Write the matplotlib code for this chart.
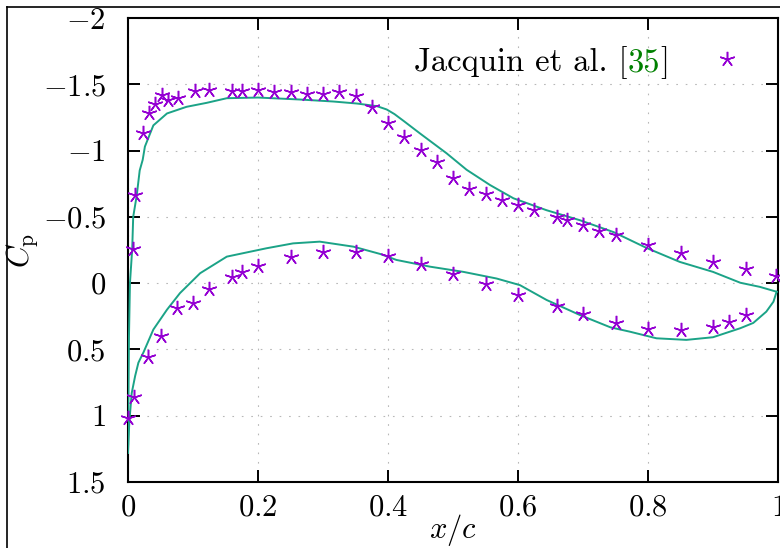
import numpy as np
import matplotlib
matplotlib.use("Agg")
import matplotlib.pyplot as plt
from matplotlib.lines import Line2D

plt.rcParams["font.family"] = "serif"
plt.rcParams["font.serif"] = ["cmr10"]
plt.rcParams["mathtext.fontset"] = "cm"
plt.rcParams["axes.formatter.use_mathtext"] = True

# simulation, upper surface (leading edge -> trailing edge)
sim_up_x = [0.0, 0.0008, 0.0015, 0.003, 0.0065, 0.008, 0.0134, 0.018, 0.0226, 0.026,
            0.039, 0.06, 0.09, 0.121, 0.152, 0.2, 0.265, 0.316, 0.352, 0.383, 0.398,
            0.41, 0.425, 0.449, 0.49, 0.521, 0.557, 0.593, 0.644, 0.695, 0.747, 0.798,
            0.849, 0.9, 0.942, 0.972, 0.998]
sim_up_cp = [1.28, 0.8, 0.4, 0.0, -0.26, -0.5, -0.66, -0.85, -0.93, -1.03,
             -1.19, -1.28, -1.33, -1.36, -1.395, -1.40, -1.385, -1.37, -1.355, -1.335, -1.31,
             -1.275, -1.22, -1.13, -0.98, -0.855, -0.74, -0.64, -0.55, -0.475, -0.385, -0.265,
             -0.16, -0.085, -0.003, 0.028, 0.065]

# simulation, lower surface (leading edge -> trailing edge)
sim_lo_x = [0.0, 0.002, 0.0057, 0.011, 0.016, 0.024, 0.039, 0.06, 0.08, 0.111, 0.152,
            0.213, 0.254, 0.295, 0.347, 0.388, 0.413, 0.465, 0.516, 0.567, 0.603,
            0.644, 0.695, 0.742, 0.772, 0.813, 0.859, 0.9, 0.942, 0.962, 0.982,
            0.993, 0.997, 0.998]
sim_lo_cp = [1.28, 1.05, 0.83, 0.7, 0.6, 0.52, 0.35, 0.2, 0.075, -0.075, -0.2,
             -0.263, -0.3, -0.313, -0.275, -0.22, -0.175, -0.124, -0.085, -0.035, 0.015,
             0.127, 0.24, 0.333, 0.366, 0.416, 0.428, 0.408, 0.34, 0.30, 0.215,
             0.14, 0.078, 0.065]

# experiment (Jacquin et al.)
exp_up_x = [0.007, 0.011, 0.023, 0.032, 0.042, 0.052, 0.061, 0.077, 0.103, 0.125,
            0.16, 0.176, 0.2, 0.225, 0.25, 0.275, 0.3, 0.325, 0.35, 0.375, 0.4,
            0.425, 0.45, 0.475, 0.5, 0.525, 0.55, 0.575, 0.6, 0.625, 0.66, 0.675,
            0.7, 0.725, 0.75, 0.8, 0.85, 0.9, 0.95, 0.997]
exp_up_cp = [-0.26, -0.665, -1.135, -1.28, -1.355, -1.42, -1.385, -1.395, -1.45, -1.455,
             -1.45, -1.45, -1.46, -1.445, -1.445, -1.425, -1.43, -1.445, -1.41, -1.33, -1.205,
             -1.10, -1.005, -0.915, -0.79, -0.71, -0.67, -0.625, -0.59, -0.55, -0.50, -0.477,
             -0.44, -0.395, -0.36, -0.29, -0.225, -0.16, -0.11, -0.055]
exp_lo_x = [0.0005, 0.009, 0.031, 0.051, 0.076, 0.1, 0.125, 0.16, 0.176, 0.2, 0.25,
            0.3, 0.35, 0.4, 0.45, 0.5, 0.55, 0.6, 0.66, 0.7, 0.75, 0.8, 0.85, 0.9,
            0.925, 0.95]
exp_lo_cp = [1.02, 0.86, 0.56, 0.395, 0.19, 0.15, 0.045, -0.045, -0.087, -0.132, -0.197,
             -0.233, -0.233, -0.203, -0.145, -0.07, 0.008, 0.09, 0.172, 0.232, 0.298,
             0.345, 0.353, 0.333, 0.29, 0.24]

xticks = [0, 0.2, 0.4, 0.6, 0.8, 1]
xtick_labels = ["$0$", "$0.2$", "$0.4$", "$0.6$", "$0.8$", "$1$"]
yticks = [-2, -1.5, -1, -0.5, 0, 0.5, 1, 1.5]
ytick_labels = ["$-2$", "$-1.5$", "$-1$", "$-0.5$", "$0$", "$0.5$", "$1$", "$1.5$"]

line_col = "#1ba387"
mark_col = "#9400d3"
fs = 22
lfs = 23.5

fig = plt.figure(figsize=(7.8, 5.48), dpi=100)
ax = fig.add_axes([128/780, 1-482/548, 650/780, 464/548])

ax.plot(sim_up_x, sim_up_cp, color=line_col, lw=1.4, zorder=3)
ax.plot(sim_lo_x, sim_lo_cp, color=line_col, lw=1.4, zorder=3)
ax.plot(exp_up_x + exp_lo_x, exp_up_cp + exp_lo_cp, ls="none", marker=(5, 2, 0),
        ms=11, mew=1.1, color=mark_col, clip_on=False, zorder=4,
        label="Jacquin et al. [")

ax.set_xlim(0, 1)
ax.set_ylim(1.5, -2)
ax.set_xticks(xticks)
ax.set_xticklabels(xtick_labels)
ax.set_yticks(yticks)
ax.set_yticklabels(ytick_labels)
ax.tick_params(direction="in", length=8.5, width=1.4, top=True, right=True,
               labelsize=fs)
ax.tick_params(axis="y", pad=16)
ax.tick_params(axis="x", pad=9)
for s in ax.spines.values():
    s.set_linewidth(1.5)
ax.grid(True, color="#b8b8b8", lw=0.8, ls=(0, (1.5, 7)))

ax.set_xlabel("$x/c$", fontsize=fs)
ax.xaxis.set_label_coords(0.5, -0.064)
ax.set_ylabel(r"$C_\mathrm{p}$", fontsize=fs, labelpad=2)

# legend: marker after the text, the reference number drawn in green after it
leg = ax.legend(loc="upper right", bbox_to_anchor=(0.992, 0.968), borderaxespad=0,
                frameon=False, markerfirst=False, fontsize=lfs,
                handlelength=2.0, handletextpad=2.05)
lt = leg.get_texts()[0]
t2 = ax.annotate("35", xy=(1, 0), xycoords=lt, ha="left", va="bottom",
                 fontsize=lfs, color="#008000", zorder=11)
ax.annotate("]", xy=(1, 0), xycoords=t2, ha="left", va="bottom",
            fontsize=lfs, color="black", zorder=12)

# outer frame of the picture
fig.add_artist(Line2D([7/780, 7/780], [0, 1-7/548], color="black", lw=1.2))
fig.add_artist(Line2D([7/780, 1], [1-7/548, 1-7/548], color="black", lw=1.2))

fig.savefig("out.png", dpi=100)
